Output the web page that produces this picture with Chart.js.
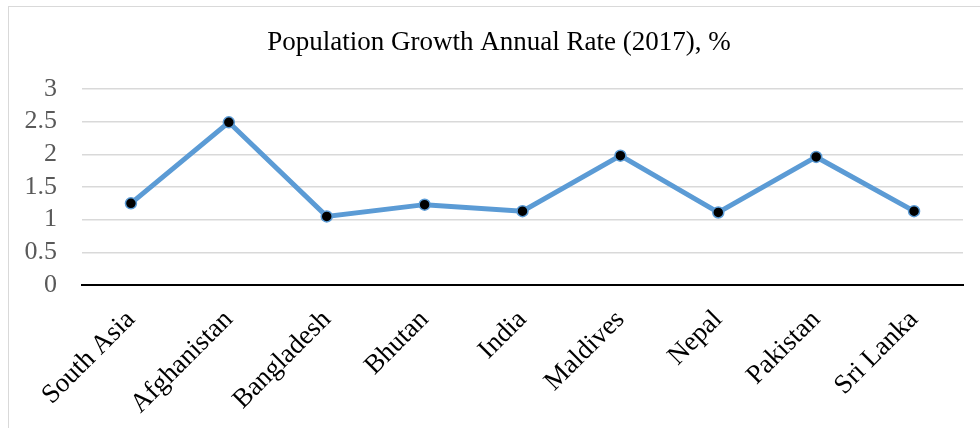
<!DOCTYPE html>
<html>
<head>
<meta charset="utf-8">
<script src="https://cdn.jsdelivr.net/npm/chart.js@4/dist/chart.umd.min.js"></script>
<style>
    html, body { margin: 0; padding: 0; background: #fff; }
    #marco {
        position: absolute; left: 8px; top: 6px; width: 990px; height: 440px;
        border: 1.5px solid #d9d9d9; box-sizing: border-box;
    }
    #wrap { position: absolute; left: 0; top: 0; width: 980px; height: 428px; }
</style>
</head>
<body>
<div id="marco"></div>
<div id="wrap"><canvas id="chartPob"></canvas></div>
<script>
// Datos
const paises = ["South Asia", "Afghanistan", "Bangladesh", "Bhutan", "India", "Maldives", "Nepal", "Pakistan", "Sri Lanka"];
const tasaCrecimiento = [1.25, 2.49, 1.05, 1.23, 1.13, 1.98, 1.11, 1.96, 1.13];
const etiquetasY = ["0", "0.5", "1", "1.5", "2", "2.5", "3"];
const tituloGrafico = "Population Growth Annual Rate (2017), %";

const fuente = "'Liberation Serif', 'Times New Roman', serif";

// El titulo va centrado sobre el marco, no sobre el area del grafico
const tituloMarco = {
    id: 'tituloMarco',
    afterDraw(chart) {
        const c = chart.ctx;
        c.save();
        c.font = "27px " + fuente;
        c.fillStyle = '#000';
        c.textAlign = 'center';
        c.textBaseline = 'middle';
        c.fillText(tituloGrafico, 499, 43);
        c.restore();
    }
};

const ctx = document.getElementById('chartPob').getContext('2d');

new Chart(ctx, {
    type: 'line',
    data: {
        labels: paises,
        datasets: [{
            label: 'Rate',
            data: tasaCrecimiento,
            borderColor: '#5b9bd5',
            borderWidth: 5,
            pointRadius: 5.5,
            pointBackgroundColor: '#000',
            pointBorderColor: '#5b9bd5',
            pointBorderWidth: 1.5,
            tension: 0
        }]
    },
    plugins: [tituloMarco],
    options: {
        responsive: true,
        maintainAspectRatio: false,
        animation: false,
        layout: { padding: { left: 0, right: 17, top: 89, bottom: 0 } },
        plugins: {
            legend: { display: false },
            tooltip: { enabled: false },
            title: { display: false }
        },
        scales: {
            x: {
                offset: true,
                grid: { display: false },
                border: { display: true, color: '#000', width: 2 },
                ticks: {
                    color: '#000',
                    font: { family: fuente, size: 27 },
                    minRotation: 45,
                    maxRotation: 45,
                    autoSkip: false,
                    padding: 11
                },
                afterFit: (scale) => { scale.height = 143; }
            },
            y: {
                min: 0,
                max: 3,
                border: { display: false },
                grid: {
                    color: (c) => c.tick && c.tick.value === 0 ? '#000' : '#d9d9d9',
                    lineWidth: 1.5,
                    drawTicks: false
                },
                ticks: {
                    stepSize: 0.5,
                    autoSkip: false,
                    color: '#595959',
                    font: { family: fuente, size: 26 },
                    padding: 25,
                    callback: (v, i) => etiquetasY[i]
                },
                afterFit: (scale) => { scale.width = 82; }
            }
        }
    }
});
</script>
</body>
</html>
